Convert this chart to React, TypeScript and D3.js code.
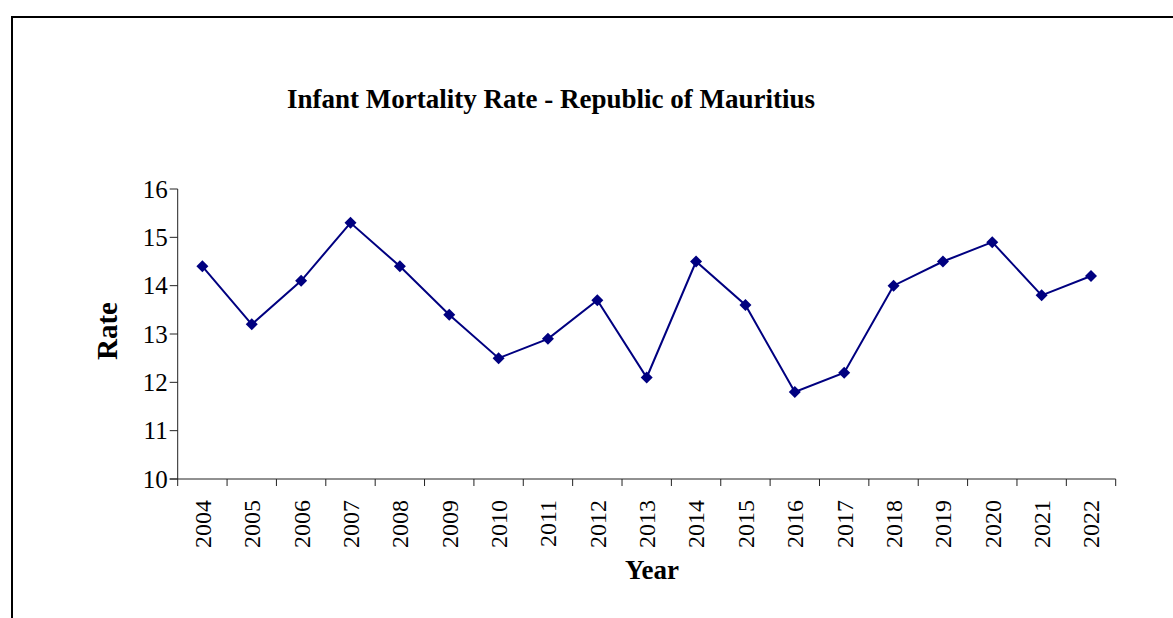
import React from "react";
import * as d3 from "d3";

const years = ["2004","2005","2006","2007","2008","2009","2010","2011","2012","2013","2014","2015","2016","2017","2018","2019","2020","2021","2022"];
const rates = [14.4,13.2,14.1,15.3,14.4,13.4,12.5,12.9,13.7,12.1,14.5,13.6,11.8,12.2,14.0,14.5,14.9,13.8,14.2];
const yTicks = [10,11,12,13,14,15,16];
const title = "Infant Mortality Rate - Republic of Mauritius";
const xTitle = "Year";
const yTitle = "Rate";

export default function App() {
  const W = 1173, H = 618;
  const left = 177.7, right = 1115.7, top = 189, bottom = 479;
  const x = d3.scaleBand<string>().domain(years).range([left, right]).padding(0);
  const y = d3.scaleLinear().domain([10, 16]).range([bottom, top]);
  const line = d3.line<number>()
    .x((_, i) => (x(years[i]) as number) + x.bandwidth() / 2)
    .y((d) => y(d));
  const diamond = "M0,-6L6,0L0,6L-6,0Z";
  const font = "'Liberation Serif', 'Times New Roman', serif";
  return (
    <svg width={W} height={H} style={{ position: "absolute", left: 0, top: 0, display: "block", background: "#fff" }}>
      <rect x={12} y={17} width={1200} height={700} fill="#fff" stroke="#000" strokeWidth={2} />
      <text x={551} y={108} textAnchor="middle" fontFamily={font} fontWeight="bold" fontSize={27}>{title}</text>
      {/* Y axis */}
      <line x1={left} x2={left} y1={top} y2={bottom} stroke="#222" strokeWidth={1} />
      {yTicks.map((t) => (
        <g key={t}>
          <line x1={left - 8} x2={left} y1={y(t)} y2={y(t)} stroke="#222" />
          <text x={left - 10} y={y(t)} dy="0.35em" textAnchor="end" fontFamily={font} fontSize={25}>{t}</text>
        </g>
      ))}
      {/* X axis */}
      <line x1={left - 8} x2={right} y1={bottom} y2={bottom} stroke="#222" />
      {years.map((yr) => (
        <line key={"t" + yr} x1={x(yr) as number} x2={x(yr) as number} y1={bottom} y2={bottom + 7} stroke="#222" />
      ))}
      <line x1={right} x2={right} y1={bottom} y2={bottom + 7} stroke="#222" />
      {years.map((yr) => {
        const cx = (x(yr) as number) + x.bandwidth() / 2;
        return (
          <text key={"l" + yr} transform={`translate(${cx},${500}) rotate(-90)`} dy="0.35em" textAnchor="end" fontFamily={font} fontSize={24}>{yr}</text>
        );
      })}
      <text x={652} y={579} textAnchor="middle" fontFamily={font} fontWeight="bold" fontSize={27}>{xTitle}</text>
      <text transform={`translate(107,${331}) rotate(-90)`} dy="0.35em" textAnchor="middle" fontFamily={font} fontWeight="bold" fontSize={29}>{yTitle}</text>
      <path d={line(rates) as string} fill="none" stroke="#000080" strokeWidth={2} />
      {rates.map((v, i) => (
        <path key={"m" + i} d={diamond} transform={`translate(${(x(years[i]) as number) + x.bandwidth() / 2},${y(v)})`} fill="#000080" />
      ))}
    </svg>
  );
}
